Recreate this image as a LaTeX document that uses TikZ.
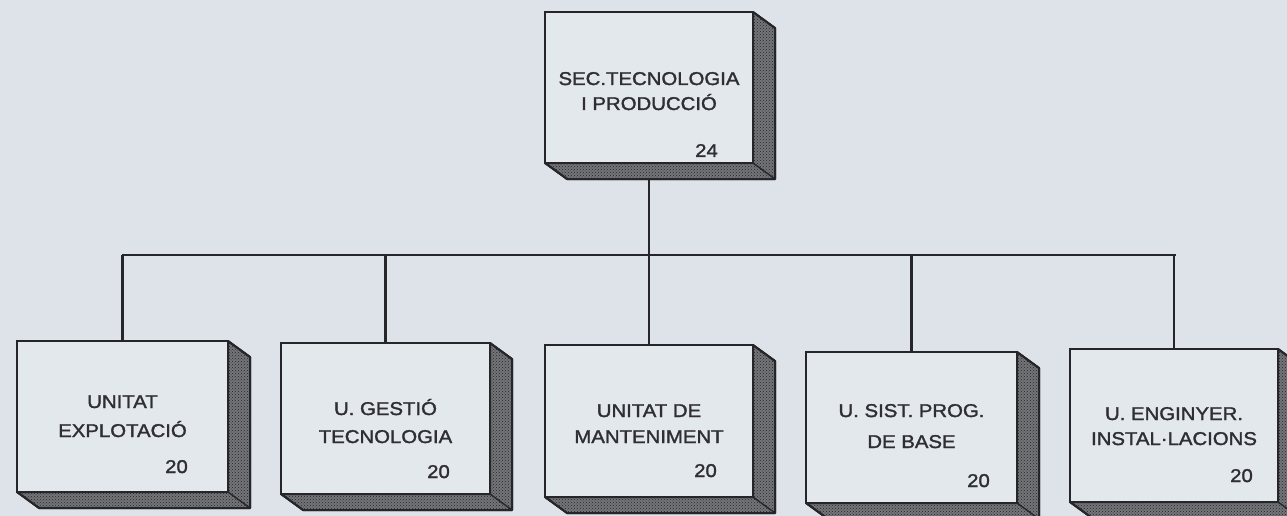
\documentclass[tikz,border=0pt]{standalone}
\usepackage{fontspec}
\setmainfont{Liberation Sans}[FakeStretch=1.1, FakeBold=1.6]
\usetikzlibrary{patterns}
\definecolor{bgc}{HTML}{DDE3E8}
\definecolor{facec}{HTML}{E3E8EC}
\definecolor{inkc}{HTML}{26262A}
\definecolor{txtc}{HTML}{2E2E33}
\definecolor{sidec}{HTML}{737579}
\tikzset{
  face/.style={draw=inkc, line width=2.2pt, fill=facec, rectangle, inner sep=0pt, outer sep=0pt, anchor=north west},
  side/.style={draw=inkc, line width=2pt, fill=sidec, line join=round},
  sidepat/.style={pattern=crosshatch dots, pattern color=inkc},
  conn/.style={draw=inkc, line width=2.3pt},
  lbl/.style={text=txtc, font=\fontsize{18.5}{20}\selectfont, inner sep=0pt, anchor=base},
  num/.style={text=txtc, font=\fontsize{18.5}{20}\selectfont, inner sep=0pt, anchor=base east}
}
\newcommand{\sidefaces}[1]{%
  \path[side] (#1.north east) -- ([shift={(22pt,-16pt)}]#1.north east) -- ([shift={(22pt,-16pt)}]#1.south east) -- ([shift={(22pt,-16pt)}]#1.south west) -- (#1.south west) -- (#1.south east) -- cycle;
  \path[sidepat] (#1.north east) -- ([shift={(22pt,-16pt)}]#1.north east) -- ([shift={(22pt,-16pt)}]#1.south east) -- ([shift={(22pt,-16pt)}]#1.south west) -- (#1.south west) -- (#1.south east) -- cycle;
  \draw[inkc, line width=2pt, line join=round] (#1.north east) -- ([shift={(22pt,-16pt)}]#1.north east) -- ([shift={(22pt,-16pt)}]#1.south east) -- ([shift={(22pt,-16pt)}]#1.south west) -- (#1.south west);
  \draw[inkc, line width=1.4pt] (#1.south east) -- ([shift={(22pt,-16pt)}]#1.south east);
}
\begin{document}
\begin{tikzpicture}[x=1pt, y=-1pt]
\path[use as bounding box, fill=bgc] (0,0) rectangle (1287,516);
\begin{scope}
\clip (0,0) rectangle (1287,516);
% front faces
\node[face, minimum width=208pt, minimum height=151pt] (top) at (545,12) {};
\node[face, minimum width=211pt, minimum height=151pt] (b1) at (17,341) {};
\node[face, minimum width=209pt, minimum height=151pt] (b2) at (281,343) {};
\node[face, minimum width=208pt, minimum height=152pt] (b3) at (545,345) {};
\node[face, minimum width=211pt, minimum height=151pt] (b4) at (806,352) {};
\node[face, minimum width=208pt, minimum height=153pt] (b5) at (1070,349) {};
% connectors
\coordinate (jl) at (123,255);
\coordinate (jr) at (1175,255);
\draw[conn] (top.south) -- (top.south |- jl);
\draw[conn, line cap=rect] (jl) -- (jr);
\draw[conn] (b1.north |- jl) -- (b1.north);
\draw[conn] (b2.north |- jl) -- (b2.north);
\draw[conn] (b3.north |- jl) -- (b3.north);
\draw[conn] (b4.north |- jl) -- (b4.north);
\draw[conn] (b5.north |- jl) -- (b5.north);
% depth faces
\sidefaces{top}
\sidefaces{b1}
\sidefaces{b2}
\sidefaces{b3}
\sidefaces{b4}
\sidefaces{b5}
% redraw front outlines
\foreach \n in {top,b1,b2,b3,b4,b5}{\draw[inkc, line width=2.2pt] (\n.north west) rectangle (\n.south east);}
% labels
\node[lbl] (topa) at ([yshift=-73pt]top.north) {SEC.TECNOLOGIA};
\node[lbl] (topb) at ([yshift=-98pt]top.north) {I PRODUCCIÓ};
\node[num] (topn) at ([shift={(-35pt,-145pt)}]top.north east) {24};
\node[lbl] (b1a) at ([yshift=-67pt]b1.north) {UNITAT};
\node[lbl] (b1b) at ([yshift=-96pt]b1.north) {EXPLOTACIÓ};
\node[num] (b1n) at ([shift={(-40pt,-132pt)}]b1.north east) {20};
\node[lbl] (b2a) at ([yshift=-72pt]b2.north) {U. GESTIÓ};
\node[lbl] (b2b) at ([yshift=-100pt]b2.north) {TECNOLOGIA};
\node[num] (b2n) at ([shift={(-40pt,-135pt)}]b2.north east) {20};
\node[lbl] (b3a) at ([yshift=-72pt]b3.north) {UNITAT DE};
\node[lbl] (b3b) at ([yshift=-98pt]b3.north) {MANTENIMENT};
\node[num] (b3n) at ([shift={(-36pt,-132pt)}]b3.north east) {20};
\node[lbl] (b4a) at ([yshift=-65pt]b4.north) {U. SIST. PROG.};
\node[lbl] (b4b) at ([yshift=-96pt]b4.north) {DE BASE};
\node[num] (b4n) at ([shift={(-27pt,-135pt)}]b4.north east) {20};
\node[lbl] (b5a) at ([yshift=-71pt]b5.north) {U. ENGINYER.};
\node[lbl] (b5b) at ([yshift=-96pt]b5.north) {INSTAL·LACIONS};
\node[num] (b5n) at ([shift={(-25pt,-133pt)}]b5.north east) {20};
\end{scope}
\end{tikzpicture}
\end{document}
